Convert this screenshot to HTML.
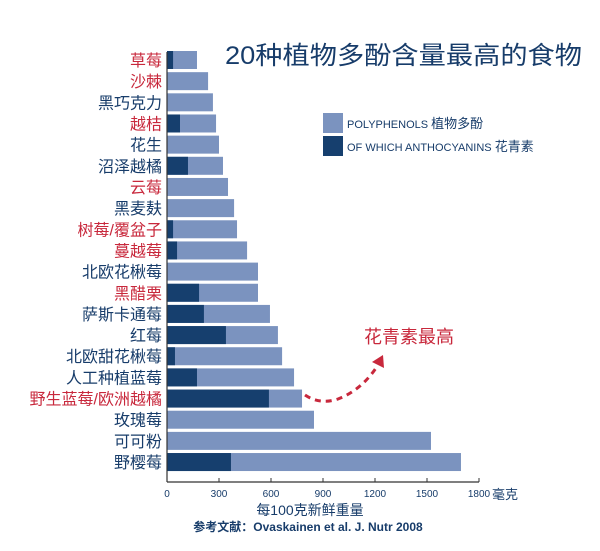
<!DOCTYPE html>
<html><head><meta charset="utf-8"><style>
html,body{margin:0;padding:0;background:#fff;}
svg{display:block;font-family:"Liberation Sans","Noto Sans CJK SC",sans-serif;}
</style></head><body>
<svg id="chart" width="600" height="551" viewBox="0 0 600 551" xmlns="http://www.w3.org/2000/svg">
<text x="225" y="64" font-size="25" fill="#173c6a" textLength="357" lengthAdjust="spacingAndGlyphs">20种植物多酚含量最高的食物</text>
<g>
<rect x="323" y="113" width="20" height="20" fill="#7b93bf"/>
<text x="347" y="128" font-size="11" fill="#173c6a">POLYPHENOLS <tspan font-size="13">植物多酚</tspan></text>
<rect x="323" y="136" width="20" height="20" fill="#163f6e"/>
<text x="347" y="151" font-size="11" fill="#173c6a">OF WHICH ANTHOCYANINS <tspan font-size="13">花青素</tspan></text>
</g>
<g id="bars"></g>
<g id="axis"></g>
<text x="492" y="499" font-size="13" fill="#173c6a">毫克</text>
<text x="310" y="515" font-size="14" fill="#173c6a" text-anchor="middle">每100克新鲜重量</text>
<text x="308" y="531" font-size="12" fill="#173c6a" text-anchor="middle" font-weight="bold">参考文献：Ovaskainen et al. J. Nutr 2008</text>
<text x="364" y="343" font-size="18" fill="#c8283c">花青素最高</text>
<path d="M305,395 Q320,405 338,399 Q362,390 378,365" fill="none" stroke="#c8283c" stroke-width="3" stroke-dasharray="6,5"/>
<path d="M372,362 L383,355 L384,368 Z" fill="#c8283c"/>
</svg>
<script>
const categories=["草莓","沙棘","黑巧克力","越桔","花生","沼泽越橘","云莓","黑麦麸","树莓/覆盆子","蔓越莓","北欧花楸莓","黑醋栗","萨斯卡通莓","红莓","北欧甜花楸莓","人工种植蓝莓","野生蓝莓/欧洲越橘","玫瑰莓","可可粉","野樱莓"];
const polyphenols=[173,237,265,283,300,323,352,387,404,462,525,525,594,640,664,733,779,848,1523,1696];
const anthocyanins=[35,0,0,75,0,121,0,0,35,58,0,185,213,340,46,173,588,0,0,369];
const redLabels=[1,1,0,1,0,0,1,0,1,1,0,1,0,0,0,0,1,0,0,0];
const ticks=[0,300,600,900,1200,1500,1800];
const NS="http://www.w3.org/2000/svg";
const x0=167,x1=479,vmax=1800;
function xs(v){return x0+(v/vmax)*(x1-x0);}
const top0=60,pitch=21.16,bh=18;
function yc(i){return top0+i*pitch;}
const bars=document.getElementById('bars'),axis=document.getElementById('axis');
function mk(tag,attrs,parent){const e=document.createElementNS(NS,tag);for(const k in attrs)e.setAttribute(k,attrs[k]);parent.appendChild(e);return e;}
categories.forEach((c,i)=>{
 const y=yc(i)-bh/2;
 const r=mk('rect',{x:xs(0),y:y,width:xs(polyphenols[i])-xs(0),height:bh,fill:'#7b93bf'},bars);
 
 
 if(anthocyanins[i]>0){
  const d=mk('rect',{x:xs(0),y:y,width:xs(anthocyanins[i])-xs(0),height:bh,fill:'#163f6e'},bars);
  
  
 }
 const t=mk('text',{x:162,y:yc(i)+6,'font-size':16,'text-anchor':'end',fill:redLabels[i]?'#c8283c':'#173c6a'},bars);
 t.textContent=c;
 
 
});
const ax=mk('line',{x1:x0,y1:52,x2:x0,y2:482,stroke:'#333','stroke-width':1.2},axis);


const bx=mk('line',{x1:x0,y1:482,x2:x1,y2:482,stroke:'#333','stroke-width':1.2},axis);


ticks.forEach(v=>{
 const l=mk('line',{x1:xs(v),y1:478,x2:xs(v),y2:482,stroke:'#333'},axis);
 
 
 const t=mk('text',{x:xs(v),y:497,'font-size':10,'text-anchor':'middle',fill:'#173c6a'},axis);
 t.textContent=v;
 
 
});
</script>
</body></html>
